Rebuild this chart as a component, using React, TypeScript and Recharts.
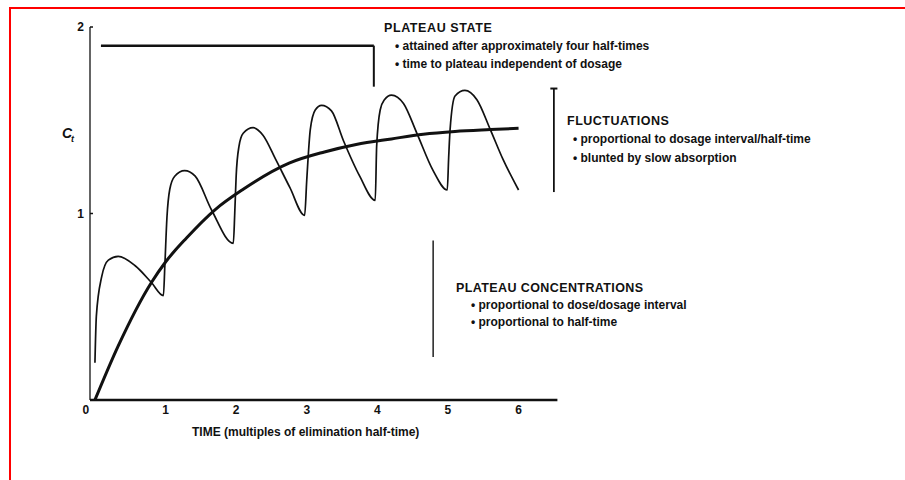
import React from "react";
import { LineChart, Line, XAxis, YAxis, ReferenceLine } from "recharts";

// time in elimination half-times, concentration in plateau units
const smoothT = [0, 0.33, 0.8, 1, 1.3, 1.7, 2.1, 2.75, 3.25, 3.7, 4.2, 4.65, 5.1, 5.6, 6];
const smoothC = [0, 0.29, 0.63, 0.74, 0.87, 1.02, 1.13, 1.27, 1.33, 1.37, 1.4, 1.425, 1.44, 1.45, 1.457];

const pulseT = [
  0, 0.02, 0.095, 0.19, 0.33, 0.57, 0.8, 0.97,
  0.99, 1.02, 1.06, 1.13, 1.27, 1.42, 1.65, 1.96,
  1.98, 2.0, 2.04, 2.1, 2.24, 2.38, 2.56, 2.76, 2.97,
  3.0, 3.05, 3.12, 3.21, 3.35, 3.52, 3.75, 3.97,
  3.99, 4.04, 4.1, 4.2, 4.37, 4.56, 4.79, 4.99,
  5.01, 5.03, 5.1, 5.24, 5.41, 5.6, 5.78, 6.0,
];
const pulseC = [
  0.2, 0.45, 0.66, 0.75, 0.77, 0.72, 0.63, 0.56,
  0.72, 0.98, 1.13, 1.2, 1.23, 1.2, 1.02, 0.84,
  1.0, 1.2, 1.36, 1.43, 1.46, 1.42, 1.29, 1.14, 0.99,
  1.18, 1.45, 1.555, 1.58, 1.55, 1.39, 1.2, 1.07,
  1.36, 1.555, 1.61, 1.635, 1.59, 1.43, 1.23, 1.126,
  1.3, 1.45, 1.63, 1.66, 1.61, 1.45, 1.29, 1.126,
];

const xTicks = [0, 1, 2, 3, 4, 5, 6];
const yTicks = [1, 2];

const smooth = smoothT.map((t, i) => ({ t, c: smoothC[i] }));
const pulse = pulseT.map((t, i) => ({ t, c: pulseC[i] }));

const FONT = "'Liberation Sans', Arial, sans-serif";
const INK = "#111";

function XTick({ x, y, payload }: any) {
  const shift = payload.value === 0 ? -9 : 0;
  return (
    <text x={x + shift} y={y} dy="0.71em" textAnchor="middle" fontFamily={FONT} fontWeight="bold" fontSize={12} fill={INK}>
      {payload.value}
    </text>
  );
}

function YTick({ x, y, payload }: any) {
  return (
    <g>
      <text x={x} y={y} dy={4} textAnchor="end" fontFamily={FONT} fontWeight="bold" fontSize={12} fill={INK}>
        {payload.value}
      </text>
      <line x1={x + 6} y1={y} x2={x + 9} y2={y} stroke={INK} strokeWidth={1.5} />
    </g>
  );
}

const txt = { fontFamily: FONT, fontWeight: "bold" as const, fill: INK };

export default function App() {
  return (
    <div style={{ position: "absolute", left: 0, top: 0, width: 905, height: 480, overflow: "hidden", background: "#fff" }}>
      <div
        style={{
          position: "absolute",
          left: 9,
          top: 7,
          width: 940,
          height: 520,
          borderTop: "2px solid #ff0000",
          borderLeft: "2px solid #ff0000",
        }}
      />
      <div style={{ position: "absolute", left: 0, top: 0 }}>
        <LineChart width={905} height={480} margin={{ top: 27, right: 347.6, bottom: 50, left: 0 }}>
          <XAxis
            type="number"
            dataKey="t"
            domain={[-0.07, 6.55]}
            ticks={xTicks}
            allowDataOverflow
            height={30}
            tickSize={0}
            tickMargin={5}
            tick={<XTick />}
            axisLine={{ stroke: INK, strokeWidth: 2.5 }}
          />
          <YAxis
            type="number"
            domain={[0, 2]}
            ticks={yTicks}
            width={90}
            tickSize={0}
            tickMargin={6}
            tick={<YTick />}
            axisLine={{ stroke: INK, strokeWidth: 1.3 }}
          />
          {/* plateau-state bracket */}
          <ReferenceLine segment={[{ x: 0.085, y: 1.9 }, { x: 3.95, y: 1.9 }]} stroke={INK} strokeWidth={2.5} />
          <ReferenceLine segment={[{ x: 3.95, y: 1.9 }, { x: 3.95, y: 1.68 }]} stroke={INK} strokeWidth={2} />
          {/* fluctuation range bar */}
          <ReferenceLine segment={[{ x: 6.5, y: 1.67 }, { x: 6.5, y: 1.115 }]} stroke={INK} strokeWidth={1.8} />
          <ReferenceLine segment={[{ x: 6.45, y: 1.67 }, { x: 6.55, y: 1.67 }]} stroke={INK} strokeWidth={2} />
          <ReferenceLine segment={[{ x: 6.44, y: 1.115 }, { x: 6.56, y: 1.115 }]} stroke={INK} strokeWidth={2.5} />
          {/* plateau concentration marker */}
          <ReferenceLine segment={[{ x: 4.79, y: 0.855 }, { x: 4.79, y: 0.23 }]} stroke={INK} strokeWidth={1.4} />
          <Line
            data={smooth}
            dataKey="c"
            type="monotone"
            stroke={INK}
            strokeWidth={3}
            dot={false}
            isAnimationActive={false}
          />
          <Line
            data={pulse}
            dataKey="c"
            type="monotone"
            stroke={INK}
            strokeWidth={1.7}
            dot={false}
            isAnimationActive={false}
          />
        </LineChart>
      </div>
      <svg width={905} height={480} style={{ position: "absolute", left: 0, top: 0, pointerEvents: "none" }}>
        <text x={62} y={138} fontFamily={FONT} fontStyle="italic" fontWeight="bold" fontSize={14} fill={INK}>
          C
        </text>
        <text x={71} y={142} fontFamily={FONT} fontStyle="italic" fontWeight="bold" fontSize={9} fill={INK}>
          t
        </text>

        <text x={384} y={32} fontSize={12.5} letterSpacing={0.6} {...txt}>PLATEAU STATE</text>
        <text x={395} y={50} fontSize={12} {...txt}>• attained after approximately four half-times</text>
        <text x={395} y={68} fontSize={12} {...txt}>• time to plateau independent of dosage</text>

        <text x={567} y={125} fontSize={12.5} letterSpacing={0.5} {...txt}>FLUCTUATIONS</text>
        <text x={573} y={143} fontSize={12} {...txt}>• proportional to dosage interval/half-time</text>
        <text x={573} y={162} fontSize={12} {...txt}>• blunted by slow absorption</text>

        <text x={456} y={292} fontSize={12.5} letterSpacing={0.4} {...txt}>PLATEAU CONCENTRATIONS</text>
        <text x={471} y={309} fontSize={12} {...txt}>• proportional to dose/dosage interval</text>
        <text x={471} y={326} fontSize={12} {...txt}>• proportional to half-time</text>

        <text x={192} y={436} fontSize={12} {...txt}>TIME (multiples of elimination half-time)</text>
      </svg>
    </div>
  );
}
